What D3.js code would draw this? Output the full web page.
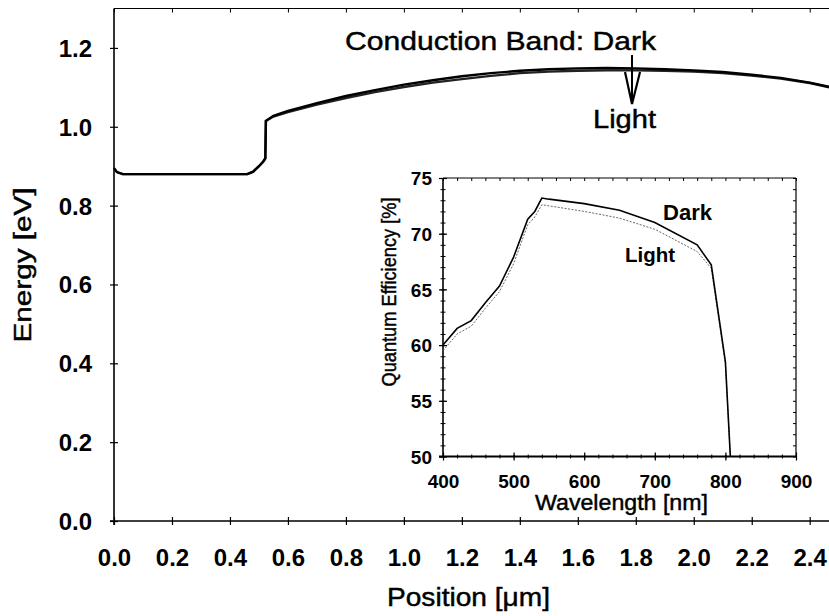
<!DOCTYPE html>
<html><head><meta charset="utf-8">
<script src="https://cdn.jsdelivr.net/npm/d3@7"></script>
<style>
html,body{margin:0;padding:0;background:#fff;}
svg{display:block;font-family:"Liberation Sans",Arial,sans-serif;}
.reg{stroke:#000;stroke-width:0.45px;}
</style></head>
<body>
<svg id="chart" width="829" height="616"></svg>
<script>
// ---------------- data ----------------
const position = [0, 0.01, 0.03, 0.1, 0.2, 0.3, 0.4, 0.46, 0.48, 0.50, 0.515, 0.522, 0.524, 0.55, 0.6, 0.7, 0.8, 0.9, 1.0, 1.1, 1.2, 1.3, 1.4, 1.5, 1.6, 1.7, 1.8, 1.9, 2.0, 2.1, 2.2, 2.3, 2.4, 2.5];
const energyDark  = [0.895, 0.885, 0.880, 0.880, 0.880, 0.880, 0.880, 0.880, 0.886, 0.900, 0.912, 0.920, 1.015, 1.028, 1.040, 1.060, 1.078, 1.093, 1.107, 1.118, 1.128, 1.136, 1.142, 1.146, 1.148, 1.149, 1.148, 1.146, 1.143, 1.139, 1.132, 1.124, 1.112, 1.096];
const energyLight = [0.895, 0.885, 0.880, 0.880, 0.880, 0.880, 0.880, 0.880, 0.886, 0.900, 0.912, 0.920, 1.015, 1.026, 1.037, 1.056, 1.073, 1.088, 1.101, 1.112, 1.121, 1.129, 1.136, 1.140, 1.142, 1.143, 1.143, 1.142, 1.140, 1.136, 1.130, 1.122, 1.111, 1.095];
const positionTicks = [0, 0.2, 0.4, 0.6, 0.8, 1.0, 1.2, 1.4, 1.6, 1.8, 2.0, 2.2, 2.4];
const energyTicks = [0, 0.2, 0.4, 0.6, 0.8, 1.0, 1.2];

const wavelength = [400, 420, 440, 460, 480, 500, 520, 530, 540, 550, 600, 650, 700, 760, 780, 800, 807];
const qeDark  = [60.0, 61.5, 62.2, 63.8, 65.3, 67.9, 71.3, 72.0, 73.2, 73.1, 72.7, 72.1, 71.0, 69.0, 67.2, 58.5, 50.0];
const qeLight = [59.5, 61.0, 61.7, 63.3, 64.8, 67.3, 70.8, 71.5, 72.6, 72.5, 72.0, 71.4, 70.4, 68.4, 66.9, 58.3, 50.0];
const wlTicks = [400, 500, 600, 700, 800, 900];
const qeTicks = [50, 55, 60, 65, 70, 75];
const wlMinor = d3.range(400, 901, 20);
const qeMinor = d3.range(50, 75.01, 1);

// ---------------- main chart ----------------
const svg = d3.select("#chart");
const x = d3.scaleLinear().domain([0, 2.5]).range([114, 838.7]);
const y = d3.scaleLinear().domain([0, 1.3]).range([521, 8.5]);
const fmt1 = d3.format(".1f");

// top border
svg.append("line").attr("x1", x(0)).attr("x2", 829).attr("y1", y(1.3)).attr("y2", y(1.3))
  .attr("stroke", "#000").attr("stroke-width", 1);
const topAx = svg.append("g").attr("transform", `translate(0,${y(1.3)})`)
  .call(d3.axisBottom(x).tickValues(positionTicks).tickSize(4).tickFormat(""));
topAx.select(".domain").remove();
topAx.selectAll("line").attr("stroke-width", 1);

// bottom axis
const xAx = svg.append("g").attr("transform", `translate(0,${y(0)})`)
  .call(d3.axisBottom(x).tickValues(positionTicks).tickSize(4).tickFormat(fmt1).tickPadding(0));
xAx.select(".domain").attr("d", `M${x(0)-4},0H829`).attr("stroke-width", 1.6);
xAx.selectAll(".tick line").attr("y1", -4).attr("y2", 4).attr("stroke-width", 1.2);
xAx.selectAll(".tick text").attr("y", 45).attr("dy", 0).attr("font-size", 24).attr("font-weight", "bold")
  .attr("fill", "#000").attr("font-family", "Liberation Sans, Arial, sans-serif");

// left axis
const yAx = svg.append("g").attr("transform", `translate(${x(0)},0)`)
  .call(d3.axisLeft(y).tickValues(energyTicks).tickSize(4).tickFormat(fmt1));
yAx.select(".domain").attr("d", `M0,${y(1.3)}V${y(0)+4}`).attr("stroke-width", 1.6);
yAx.selectAll(".tick line").attr("x1", -4).attr("x2", 4).attr("stroke-width", 1.2);
yAx.selectAll(".tick text").attr("x", -22).attr("dy", 8.4).attr("font-size", 24).attr("font-weight", "bold")
  .attr("fill", "#000").attr("font-family", "Liberation Sans, Arial, sans-serif");

// curves
const bandLine = (vals) => d3.line().x((d, i) => x(position[i])).y((d, i) => y(vals[i]));
svg.append("path").attr("d", bandLine(energyLight)(energyLight))
  .attr("fill", "none").attr("stroke", "#222").attr("stroke-width", 2.4);
svg.append("path").attr("d", bandLine(energyDark)(energyDark))
  .attr("fill", "none").attr("stroke", "#000").attr("stroke-width", 2.4);

// annotation
const arrowX = 1.787;
svg.append("text").attr("class", "reg").attr("x", 345).attr("y", 50).attr("font-size", 26)
  .attr("textLength", 311).attr("lengthAdjust", "spacingAndGlyphs").text("Conduction Band: Dark");
svg.append("text").attr("class", "reg").attr("x", 593).attr("y", 128).attr("font-size", 26)
  .attr("textLength", 63).attr("lengthAdjust", "spacingAndGlyphs").text("Light");
svg.append("line").attr("x1", x(arrowX)).attr("x2", x(arrowX)).attr("y1", y(1.182)).attr("y2", y(1.060))
  .attr("stroke", "#000").attr("stroke-width", 2);
svg.append("path")
  .attr("d", `M${x(arrowX)-7},${y(1.139)}L${x(arrowX)},${y(1.058)}L${x(arrowX)+8},${y(1.139)}`)
  .attr("fill", "none").attr("stroke", "#000").attr("stroke-width", 2.2);

// axis titles
svg.append("text").attr("class", "reg").attr("transform", `translate(31,265) rotate(-90)`).attr("text-anchor", "middle")
  .attr("font-size", 23).attr("textLength", 155).attr("lengthAdjust", "spacingAndGlyphs").text("Energy [eV]");
svg.append("text").attr("class", "reg").attr("x", 387).attr("y", 606).attr("font-size", 26)
  .attr("textLength", 163).attr("lengthAdjust", "spacingAndGlyphs").text("Position [\u03bcm]");

// ---------------- inset ----------------
const ix = d3.scaleLinear().domain([400, 900]).range([443, 796]);
const iy = d3.scaleLinear().domain([50, 75]).range([456.5, 178]);
const inset = svg.append("g");

// frame top/right
inset.append("line").attr("x1", ix(400)).attr("x2", ix(900)).attr("y1", iy(75)).attr("y2", iy(75)).attr("stroke", "#000").attr("stroke-width", 1);
inset.append("line").attr("x1", ix(900)).attr("x2", ix(900)).attr("y1", iy(75)).attr("y2", iy(50)).attr("stroke", "#000").attr("stroke-width", 1.2);

// minor ticks all sides
const mkMinor = (g) => { g.select(".domain").remove(); g.selectAll("line").attr("stroke-width", 1); };
inset.append("g").attr("transform", `translate(0,${iy(50)})`)
  .call(d3.axisBottom(ix).tickValues(wlMinor).tickSize(3).tickFormat("")).call(mkMinor)
  .selectAll("line").attr("y1", -2).attr("y2", 2);
inset.append("g").attr("transform", `translate(0,${iy(75)})`)
  .call(d3.axisBottom(ix).tickValues(wlMinor).tickSize(3).tickFormat("")).call(mkMinor);
inset.append("g").attr("transform", `translate(${ix(400)},0)`)
  .call(d3.axisLeft(iy).tickValues(qeMinor).tickSize(3).tickFormat("")).call(mkMinor)
  .selectAll("line").attr("x1", -2.5).attr("x2", 2.5);
inset.append("g").attr("transform", `translate(${ix(900)},0)`)
  .call(d3.axisLeft(iy).tickValues(qeMinor).tickSize(3).tickFormat("")).call(mkMinor);

// major axes
const ixAx = inset.append("g").attr("transform", `translate(0,${iy(50)})`)
  .call(d3.axisBottom(ix).tickValues(wlTicks).tickSize(4).tickFormat(d3.format("d")));
ixAx.select(".domain").attr("d", `M${ix(400)-4},0H${ix(900)}`).attr("stroke-width", 2);
ixAx.selectAll(".tick line").attr("y1", -4).attr("y2", 4).attr("stroke-width", 1.2);
ixAx.selectAll(".tick text").attr("y", 31.5).attr("dy", 0).attr("font-size", 19).attr("font-weight", "bold")
  .attr("fill", "#000").attr("font-family", "Liberation Sans, Arial, sans-serif");

const iyAx = inset.append("g").attr("transform", `translate(${ix(400)},0)`)
  .call(d3.axisLeft(iy).tickValues(qeTicks).tickSize(4).tickFormat(d3.format("d")));
iyAx.select(".domain").attr("d", `M0,${iy(75)}V${iy(50)}`).attr("stroke-width", 1.6);
iyAx.selectAll(".tick line").attr("x1", -4).attr("x2", 4).attr("stroke-width", 1.2);
iyAx.selectAll(".tick text").attr("x", -11).attr("dy", 6.7).attr("font-size", 19).attr("font-weight", "bold")
  .attr("fill", "#000").attr("font-family", "Liberation Sans, Arial, sans-serif");

// QE curves
const qeLine = (vals) => d3.line().x((d, i) => ix(wavelength[i])).y((d, i) => iy(vals[i]));
inset.append("path").attr("d", qeLine(qeLight)(qeLight))
  .attr("fill", "none").attr("stroke", "#666").attr("stroke-width", 1).attr("stroke-dasharray", "2,1.5");
inset.append("path").attr("d", qeLine(qeDark)(qeDark))
  .attr("fill", "none").attr("stroke", "#000").attr("stroke-width", 1.6);

// inset labels
inset.append("text").attr("x", 663).attr("y", 220).attr("font-size", 22).attr("font-weight", "bold")
  .attr("textLength", 49).attr("lengthAdjust", "spacingAndGlyphs").text("Dark");
inset.append("text").attr("x", 625).attr("y", 262).attr("font-size", 21).attr("font-weight", "bold")
  .attr("textLength", 50).attr("lengthAdjust", "spacingAndGlyphs").text("Light");
inset.append("text").attr("class", "reg").attr("transform", `translate(396,292) rotate(-90)`).attr("text-anchor", "middle")
  .attr("font-size", 21).attr("textLength", 189).attr("lengthAdjust", "spacingAndGlyphs").text("Quantum Efficiency [%]");
inset.append("text").attr("class", "reg").attr("x", 621.5).attr("y", 510).attr("text-anchor", "middle").attr("font-size", 22)
  .attr("textLength", 173).attr("lengthAdjust", "spacingAndGlyphs").text("Wavelength [nm]");
</script>
</body></html>
